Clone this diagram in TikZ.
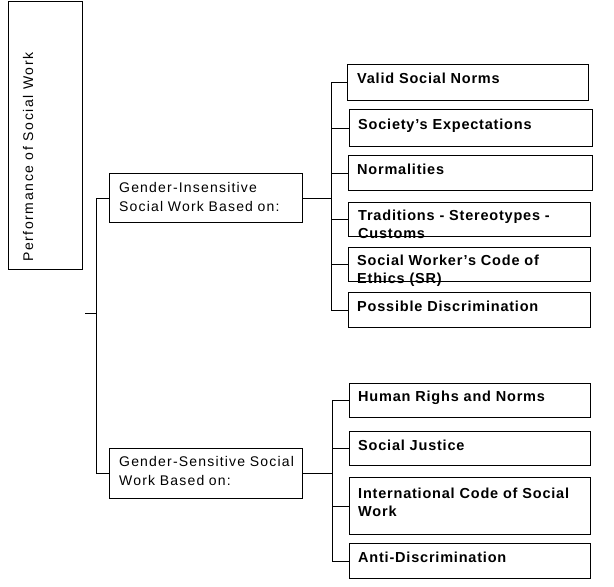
\documentclass[tikz,border=0pt]{standalone}
\usepackage{fontspec}
\setmainfont{Liberation Sans}
\newfontfamily\regfont[LetterSpace=8.5]{Liberation Sans}
\newfontfamily\boldfont[LetterSpace=5.5]{Liberation Sans Bold}
\newfontfamily\rootfont[LetterSpace=11.5]{Liberation Sans}
\usetikzlibrary{calc}
\tikzset{
  box/.style={draw=black, line width=0.9pt, fill=white, anchor=north west, inner sep=0pt},
  mainlbl/.style={anchor=base west, inner sep=0pt, align=left, text width=200pt,
     font=\regfont\fontsize{14}{19}\selectfont},
  sublbl/.style={anchor=base west, inner sep=0pt, align=left, text width=236pt,
     font=\boldfont\fontsize{14.5}{18}\selectfont},
  link/.style={draw=black, line width=0.9pt}
}
\begin{document}
\begin{tikzpicture}[x=1pt,y=-1pt]
\useasboundingbox (0,0) rectangle (614,587);
% root
\node[box, minimum width=74pt, minimum height=268pt] (root) at (8,1) {};
\node[anchor=base west, inner sep=0pt, rotate=90, font=\rootfont\fontsize{14}{17}\selectfont] (roott) at (33,262) {Performance of Social Work};
% main boxes
\node[box, minimum width=193pt, minimum height=49pt] (gi) at (109,173) {};
\node[mainlbl] (git) at (119,192) {Gender-Insensitive\\Social Work Based on:};
\node[box, minimum width=193pt, minimum height=50pt] (gs) at (109,448) {};
\node[mainlbl] (gst) at (119,466) {Gender-Sensitive Social\\Work Based on:};
% upper children
\node[box, minimum width=241pt, minimum height=36pt] (u1) at (347,64) {};
\node[box, minimum width=243pt, minimum height=37pt] (u2) at (349,109) {};
\node[box, minimum width=244pt, minimum height=35pt] (u3) at (348,155) {};
\node[box, minimum width=242pt, minimum height=34pt] (u4) at (348,202) {};
\node[box, minimum width=242pt, minimum height=34pt] (u5) at (348,247) {};
\node[box, minimum width=242pt, minimum height=35pt] (u6) at (348,292) {};
\node[sublbl] (u1t) at (357,83) {Valid Social Norms};
\node[sublbl] (u2t) at (358,129) {Society’s Expectations};
\node[sublbl] (u3t) at (357,174) {Normalities};
\node[sublbl] (u4t) at (358,220) {Traditions - Stereotypes -\\Customs};
\node[sublbl] (u5t) at (357,265) {Social Worker’s Code of\\Ethics (SR)};
\node[sublbl] (u6t) at (357,311) {Possible Discrimination};
% lower children
\node[box, minimum width=241pt, minimum height=34pt] (l1) at (349,383) {};
\node[box, minimum width=241pt, minimum height=34pt] (l2) at (349,431) {};
\node[box, minimum width=241pt, minimum height=57pt] (l3) at (349,477) {};
\node[box, minimum width=241pt, minimum height=35pt] (l4) at (349,543) {};
\node[sublbl] (l1t) at (358,401) {Human Righs and Norms};
\node[sublbl] (l2t) at (358,450) {Social Justice};
\node[sublbl] (l3t) at (358,498) {International Code of Social\\Work};
\node[sublbl] (l4t) at (358,562) {Anti-Discrimination};
% connectors
\coordinate (trunk) at (96,0);
\coordinate (ubus) at (331,0);
\coordinate (lbus) at (332,0);
\coordinate (tick) at (85,313);
\draw[link] (gi.west) -- (gi.west -| trunk) |- (gs.west);
\draw[link] (tick) -- (tick -| trunk);
\draw[link] (gi.east) -- (gi.east -| ubus);
\draw[link] (u1.west) -- (u1.west -| ubus) |- (u6.west);
\foreach \b in {u2,u3,u4,u5} \draw[link] (\b.west) -- (\b.west -| ubus);
\draw[link] (gs.east) -- (gs.east -| lbus);
\draw[link] (l1.west) -- (l1.west -| lbus) |- (l4.west);
\foreach \b in {l2,l3} \draw[link] (\b.west) -- (\b.west -| lbus);
\end{tikzpicture}
\end{document}
